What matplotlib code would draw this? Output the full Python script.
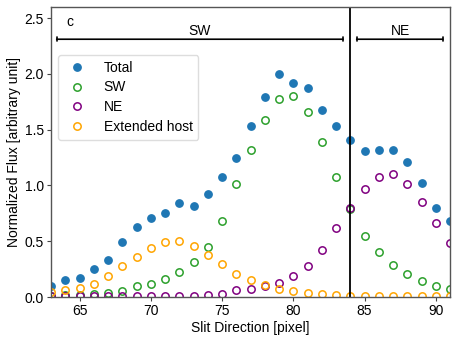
import matplotlib
matplotlib.use("Agg")
import matplotlib.pyplot as plt
import numpy as np

plt.rcParams['font.family'] = ['Liberation Sans', 'DejaVu Sans']

pixel = list(range(63, 92))
total = [0.10, 0.15, 0.17, 0.25, 0.33, 0.49, 0.63, 0.71, 0.75, 0.84, 0.82, 0.92, 1.08, 1.25,
         1.53, 1.79, 2.00, 1.92, 1.87, 1.68, 1.53, 1.41, 1.31, 1.32, 1.32, 1.21, 1.02, 0.80, 0.68]
sw = [0.01, 0.02, 0.02, 0.025, 0.033, 0.05, 0.10, 0.12, 0.16, 0.22, 0.31, 0.45, 0.685, 1.01,
      1.32, 1.59, 1.77, 1.80, 1.66, 1.39, 1.08, 0.79, 0.55, 0.40, 0.29, 0.21, 0.144, 0.10, 0.07]
ne = [0.01, 0.005, 0.005, 0.005, 0.005, 0.005, 0.005, 0.005, 0.008, 0.01, 0.01, 0.02, 0.03, 0.063,
      0.075, 0.10, 0.13, 0.19, 0.28, 0.42, 0.62, 0.80, 0.97, 1.08, 1.10, 1.01, 0.85, 0.66, 0.48]
host = [0.045, 0.06, 0.084, 0.12, 0.19, 0.28, 0.36, 0.435, 0.49, 0.50, 0.46, 0.38, 0.30, 0.21,
        0.15, 0.11, 0.075, 0.05, 0.033, 0.025, 0.02, 0.012, 0.01, 0.008, 0.007, 0.006, 0.005, 0.005, 0.005]

fig = plt.figure(figsize=(4.57, 3.43), dpi=100)
ax = fig.add_axes([0.1116, 0.134, 0.8731, 0.846])

ms = 5.3
ax.plot(pixel, total, 'o', color='#1f77b4', ms=ms, label='Total')
ax.plot(pixel, sw, 'o', mfc='none', mec='#2ca02c', mew=1.1, ms=ms, label='SW')
ax.plot(pixel, ne, 'o', mfc='none', mec='purple', mew=1.1, ms=ms, label='NE')
ax.plot(pixel, host, 'o', mfc='none', mec='orange', mew=1.1, ms=ms, label='Extended host')

ax.axvline(84, color='black', lw=1.3)

ax.annotate('', xy=(63.4, 2.31), xytext=(83.5, 2.31),
            arrowprops=dict(arrowstyle='|-|,widthA=0.15,widthB=0.15', color='black', lw=1.2,
                            shrinkA=0, shrinkB=0))
ax.annotate('', xy=(84.45, 2.31), xytext=(90.5, 2.31),
            arrowprops=dict(arrowstyle='|-|,widthA=0.15,widthB=0.15', color='black', lw=1.2,
                            shrinkA=0, shrinkB=0))
ax.text(73.45, 2.32, 'SW', ha='center', va='bottom', fontsize=10)
ax.text(87.5, 2.32, 'NE', ha='center', va='bottom', fontsize=10)
ax.text(64.3, 2.46, 'c', ha='center', va='center', fontsize=10)

ax.set_xlim(63, 91)
ax.set_ylim(0, 2.6)
ax.set_xticks([65, 70, 75, 80, 85, 90])
ax.set_yticks([0.0, 0.5, 1.0, 1.5, 2.0, 2.5])
ax.set_xlabel('Slit Direction [pixel]', fontsize=10, labelpad=2)
ax.set_ylabel('Normalized Flux [arbitrary unit]', fontsize=10, labelpad=3)
ax.tick_params(labelsize=10, length=3, width=0.8, color='#444444', pad=2)
for s in ax.spines.values():
    s.set_color('#555555')
    s.set_linewidth(1.0)

ax.legend(loc='upper left', bbox_to_anchor=(0.0175, 0.834), fontsize=10,
          borderaxespad=0, handletextpad=0.9, labelspacing=0.42, framealpha=1,
          edgecolor='#dddddd')

fig.savefig('out.png', dpi=100)
